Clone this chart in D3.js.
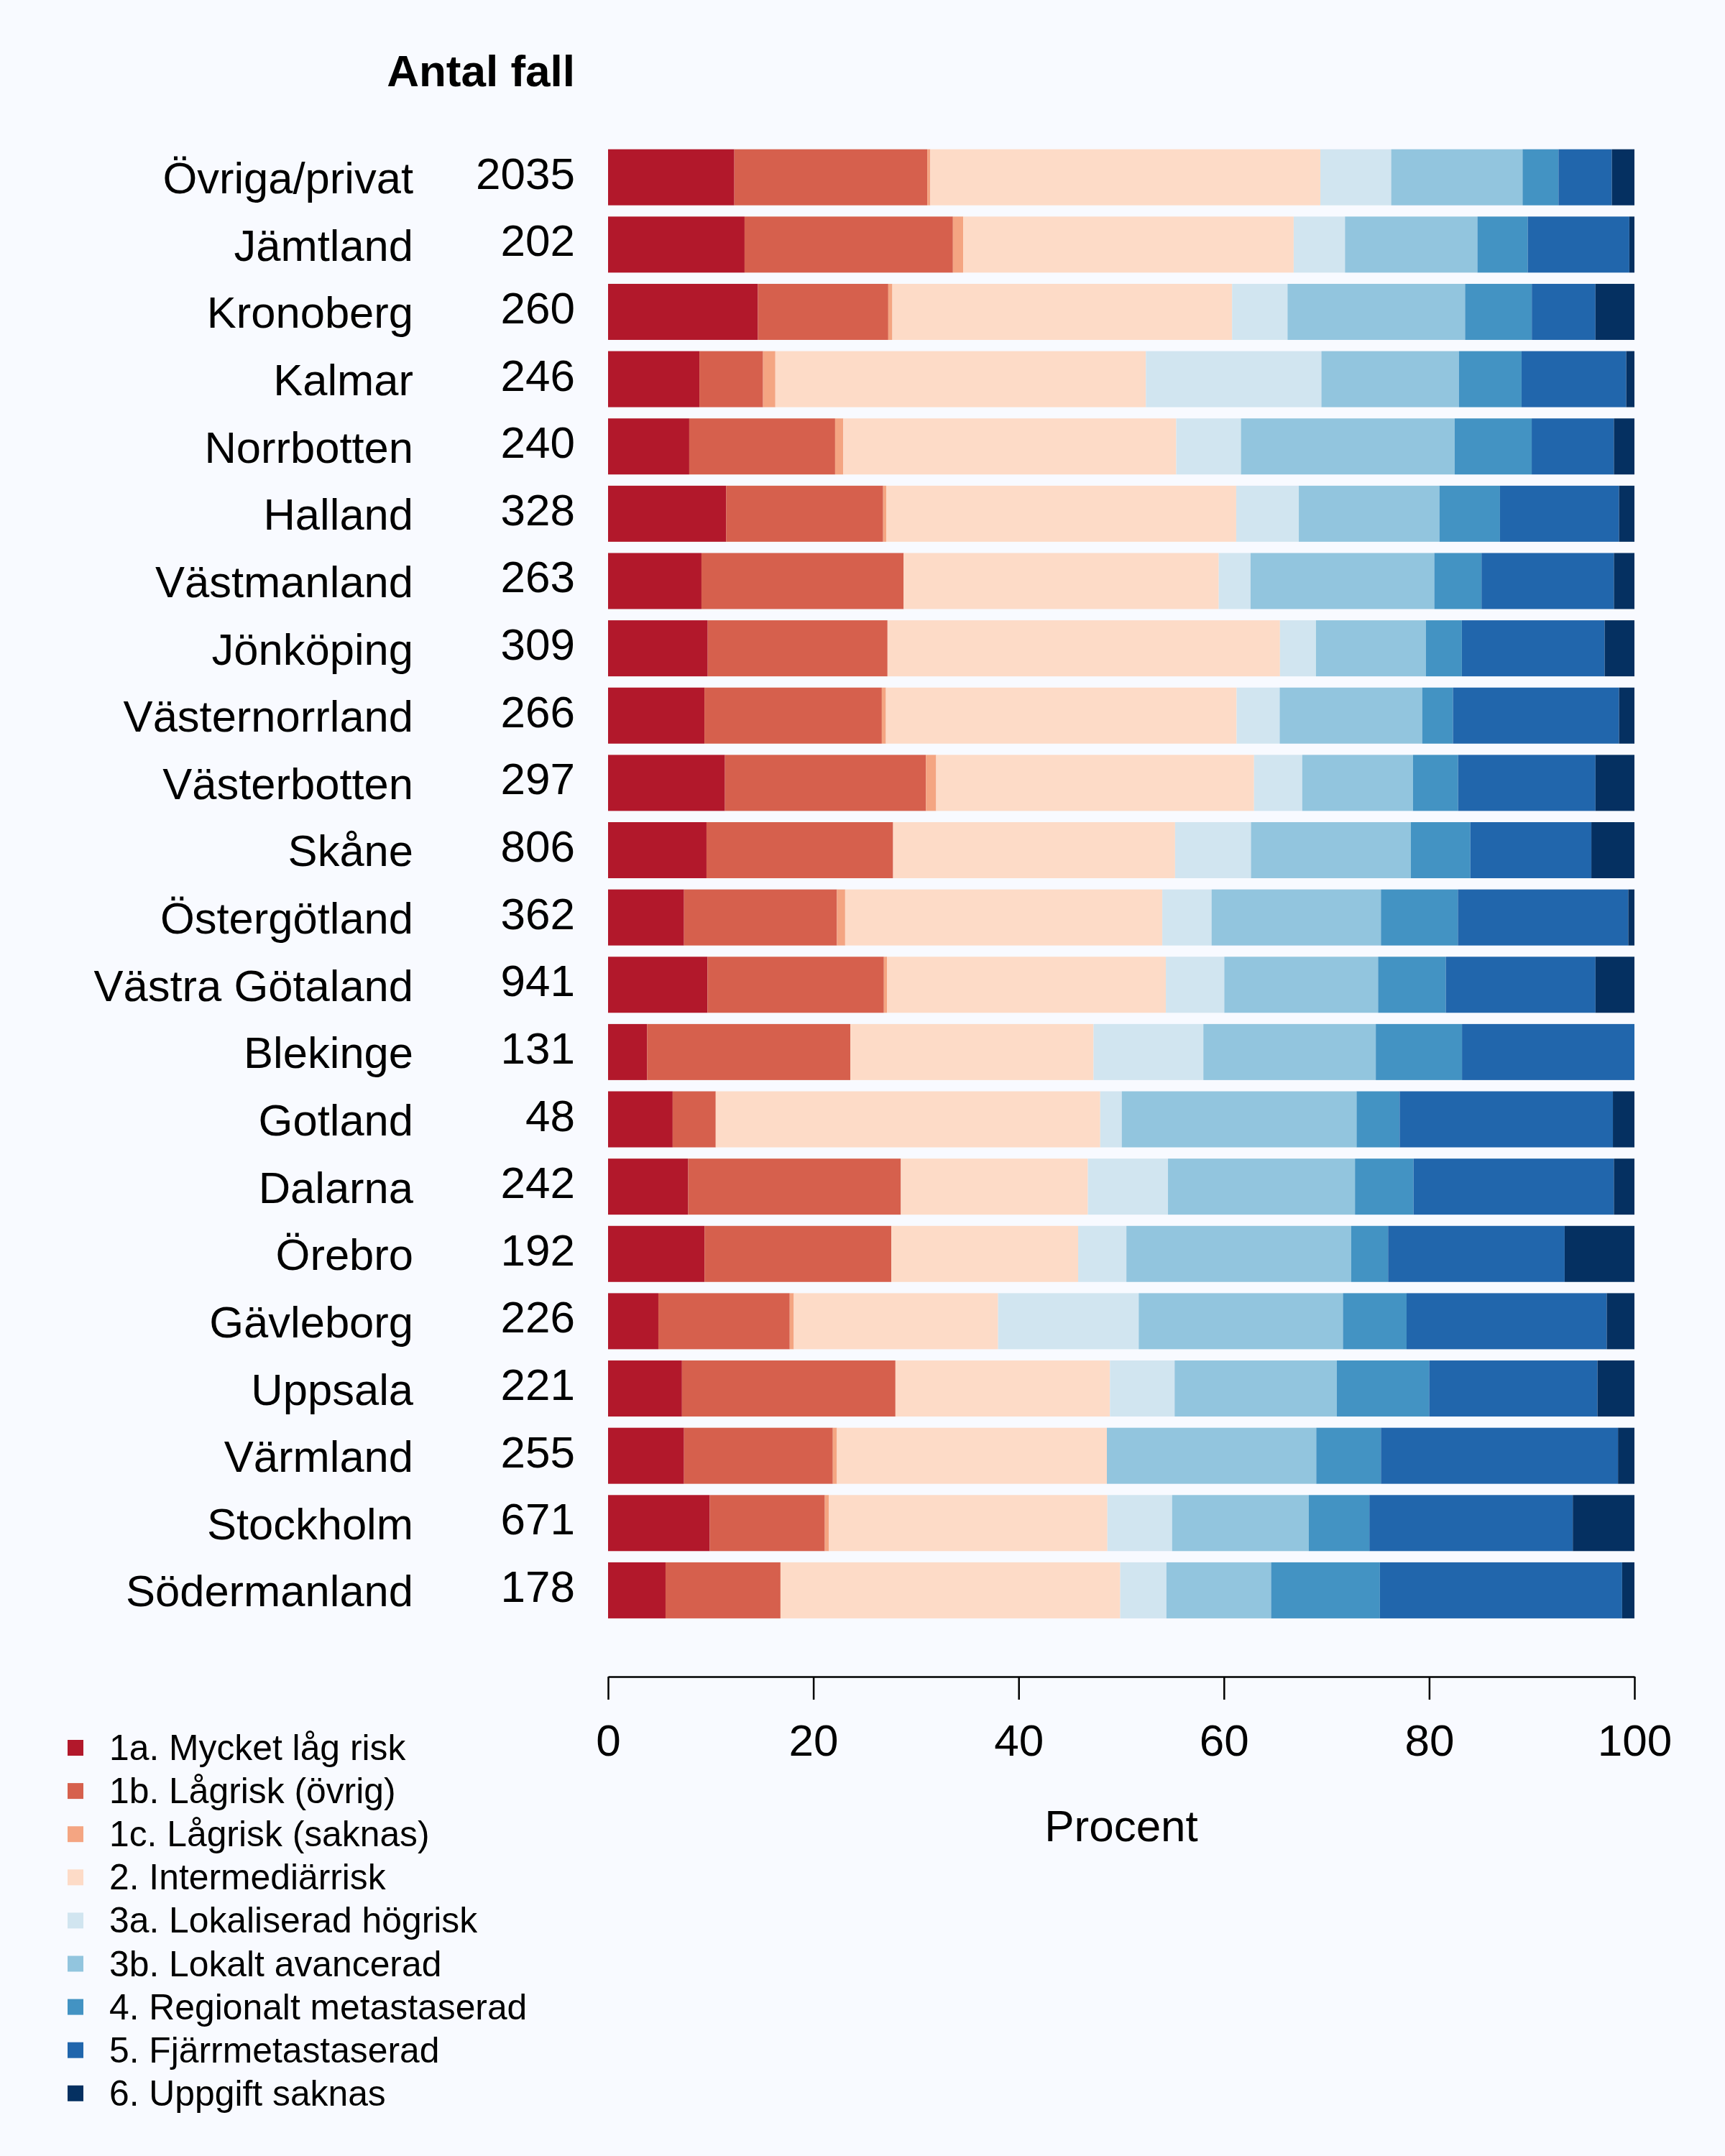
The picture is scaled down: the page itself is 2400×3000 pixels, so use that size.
<!DOCTYPE html>
<html>
<head>
<meta charset="utf-8">
<script src="https://cdn.jsdelivr.net/npm/d3@7"></script>
<style>
  body { margin: 0; background: #f8faff; }
  svg { display: block; font-family: "Liberation Sans", Arial, sans-serif; }
</style>
</head>
<body>
<div id="chart"></div>
<script>
// regions top to bottom, with number of cases
const regions = ["Övriga/privat", "Jämtland", "Kronoberg", "Kalmar", "Norrbotten", "Halland",
  "Västmanland", "Jönköping", "Västernorrland", "Västerbotten", "Skåne", "Östergötland",
  "Västra Götaland", "Blekinge", "Gotland", "Dalarna", "Örebro", "Gävleborg", "Uppsala",
  "Värmland", "Stockholm", "Södermanland"]
const counts = [2035, 202, 260, 246, 240, 328, 263, 309, 266, 297, 806, 362, 941, 131, 48,
  242, 192, 226, 221, 255, 671, 178]

const categories = ["1a. Mycket låg risk", "1b. Lågrisk (övrig)", "1c. Lågrisk (saknas)",
  "2. Intermediärrisk", "3a. Lokaliserad högrisk", "3b. Lokalt avancerad",
  "4. Regionalt metastaserad", "5. Fjärrmetastaserad", "6. Uppgift saknas"]
const colors = ["#b2182b", "#d6604d", "#f4a582", "#fddbc7", "#d1e5f0", "#92c5de",
  "#4393c3", "#2166ac", "#053061"]

// percent per category, same order as regions
const s1a = [12.3, 13.3, 14.6, 8.9, 7.9, 11.5, 9.1, 9.7, 9.4, 11.4, 9.6, 7.4, 9.7, 3.8, 6.3, 7.8, 9.4, 4.9, 7.2, 7.4, 9.9, 5.6]
const s1b = [18.8, 20.3, 12.7, 6.2, 14.2, 15.3, 19.7, 17.5, 17.3, 19.6, 18.2, 14.9, 17.2, 19.8, 4.2, 20.7, 18.2, 12.8, 20.8, 14.5, 11.2, 11.2]
const s1c = [0.3, 1.0, 0.4, 1.2, 0.8, 0.3, 0, 0, 0.4, 1.0, 0, 0.8, 0.3, 0, 0, 0, 0, 0.4, 0, 0.4, 0.4, 0]
const s2 = [38.0, 32.2, 33.1, 36.1, 32.4, 34.1, 30.7, 38.2, 34.2, 31.0, 27.5, 30.9, 27.2, 23.7, 37.5, 18.2, 18.2, 19.9, 20.9, 26.3, 27.1, 33.1]
const s3a = [6.9, 5.0, 5.4, 17.1, 6.3, 6.1, 3.1, 3.5, 4.2, 4.7, 7.4, 4.8, 5.7, 10.7, 2.1, 7.8, 4.7, 13.7, 6.3, 0, 6.3, 4.5]
const s3b = [12.8, 12.9, 17.3, 13.4, 20.8, 13.7, 17.9, 10.7, 13.9, 10.8, 15.6, 16.5, 15.0, 16.8, 22.9, 18.2, 21.9, 19.9, 15.8, 20.4, 13.3, 10.2]
const s4 = [3.5, 4.9, 6.5, 6.1, 7.5, 5.9, 4.6, 3.5, 3.0, 4.4, 5.8, 7.5, 6.6, 8.4, 4.2, 5.7, 3.6, 6.2, 9.0, 6.3, 5.9, 10.6]
const s5 = [5.2, 9.9, 6.2, 10.2, 8.0, 11.6, 12.9, 13.9, 16.2, 13.4, 11.8, 16.6, 14.6, 16.8, 20.8, 19.5, 17.2, 19.5, 16.4, 23.1, 19.8, 23.6]
const s6 = [2.2, 0.5, 3.8, 0.8, 2.0, 1.5, 2.0, 2.9, 1.5, 3.8, 4.2, 0.6, 3.8, 0, 2.1, 2.0, 6.8, 2.7, 3.6, 1.6, 6.0, 1.2]

const xTicks = [0, 20, 40, 60, 80, 100]

const series = [s1a, s1b, s1c, s2, s3a, s3b, s4, s5, s6]
const rows = regions.map((r, i) => {
    const row = { region: r, n: counts[i] }
    categories.forEach((c, j) => { row[c] = series[j][i] })
    return row
})

const width = 2400
const height = 3000
const left = 846, right = 2274
const bandStep = 93.63

const svg = d3.select("#chart").append("svg")
    .attr("width", width)
    .attr("height", height)

svg.append("rect").attr("width", width).attr("height", height).attr("fill", "#f8faff")

const x = d3.scaleLinear().domain([0, 100]).range([left, right])
const y = d3.scaleBand()
    .domain(regions)
    .range([207.7 - 0.0835 * bandStep, 207.7 - 0.0835 * bandStep + regions.length * bandStep])
    .paddingInner(0.167)
    .paddingOuter(0.0835)

const color = d3.scaleOrdinal().domain(categories).range(colors)

// stack each row to 100 percent
const stacked = d3.stack().keys(categories).offset(d3.stackOffsetExpand)(rows)

svg.append("g")
    .selectAll("g")
    .data(stacked)
    .join("g")
    .attr("fill", d => color(d.key))
    .selectAll("rect")
    .data(d => d)
    .join("rect")
    .attr("x", d => x(d[0] * 100))
    .attr("y", d => y(d.data.region))
    .attr("width", d => x(d[1] * 100) - x(d[0] * 100))
    .attr("height", y.bandwidth())

// region names
svg.append("g")
    .selectAll("text")
    .data(rows)
    .join("text")
    .attr("x", 575)
    .attr("y", d => y(d.region) + y.bandwidth() / 2 + 22.5)
    .attr("text-anchor", "end")
    .attr("font-size", 61.5)
    .text(d => d.region)

// counts
svg.append("g")
    .selectAll("text")
    .data(rows)
    .join("text")
    .attr("x", 800)
    .attr("y", d => y(d.region) + y.bandwidth() / 2 + 16)
    .attr("text-anchor", "end")
    .attr("font-size", 62)
    .text(d => d.n)

svg.append("text")
    .attr("x", 800)
    .attr("y", 120)
    .attr("text-anchor", "end")
    .attr("font-size", 62)
    .attr("font-weight", "bold")
    .text("Antal fall")

// x axis
const axis = svg.append("g")
    .attr("transform", "translate(0,2333)")
    .call(d3.axisBottom(x).tickValues(xTicks).tickSize(32).tickSizeOuter(0).tickPadding(34))
axis.select(".domain").attr("stroke", "#000").attr("stroke-width", 2.5)
axis.selectAll(".tick line").attr("stroke", "#000").attr("stroke-width", 2.5)
axis.selectAll(".tick text")
    .attr("font-size", 62)
    .attr("font-family", "Liberation Sans, Arial, sans-serif")
    .attr("fill", "#000")

svg.append("text")
    .attr("x", (left + right) / 2)
    .attr("y", 2562)
    .attr("text-anchor", "middle")
    .attr("font-size", 62)
    .text("Procent")

// legend
const legend = svg.append("g")
    .selectAll("g")
    .data(categories)
    .join("g")
    .attr("transform", (d, i) => `translate(94,${2432 + i * 60.1})`)

legend.append("rect")
    .attr("x", 0)
    .attr("y", -11)
    .attr("width", 22)
    .attr("height", 22)
    .attr("fill", d => color(d))

legend.append("text")
    .attr("x", 58)
    .attr("y", 17)
    .attr("font-size", 49.8)
    .text(d => d)
</script>
</body>
</html>
